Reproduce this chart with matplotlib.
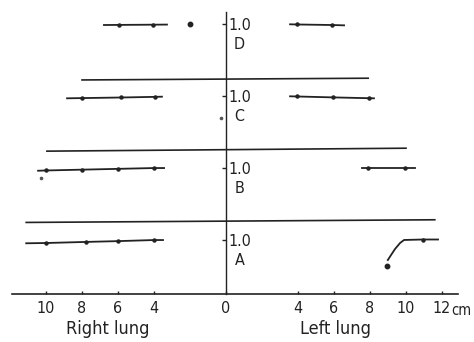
import numpy as np
import matplotlib
matplotlib.use('Agg')
import matplotlib.pyplot as plt

# x in cm (right lung drawn on the negative side), y: panel base k + 0.75 * ratio
SCALE = 0.75
panels = ['A', 'B', 'C', 'D']

x_ticks = [-10, -8, -6, -4, 0, 4, 6, 8, 10, 12]
x_ticklabels = ['10', '8', '6', '4', '0', '4', '6', '8', '10', '12']

# separator lines between panels (end points, slight scan tilt)
sep_x = [(-11.1, 11.6), (-9.95, 10.0), (-8.0, 7.9)]
sep_y = [(0.987, 1.024), (1.977, 2.018), (2.966, 2.99)]

# right lung traces (first and last point are line ends, inner points are marked)
A_right_x = [-11.1, -10.0, -7.8, -6.0, -4.0, -3.5]
A_right_v = [0.93, 0.935, 0.955, 0.97, 0.99, 0.99]
B_right_x = [-10.44, -10.0, -8.0, -6.0, -4.0, -3.44]
B_right_v = [0.94, 0.945, 0.96, 0.975, 0.99, 0.99]
C_right_x = [-8.83, -8.0, -5.83, -3.94, -3.56]
C_right_v = [0.948, 0.952, 0.963, 0.975, 0.978]
D_right_x = [-6.78, -5.94, -4.06, -3.28]
D_right_v = [0.972, 0.974, 0.978, 0.98]

# left lung traces
A_left_x = [8.99, 9.17, 9.39, 9.67, 9.89, 10.94, 11.78]
A_left_v = [0.62, 0.713, 0.824, 0.935, 0.991, 1.0, 1.0]
B_left_x = [7.56, 7.89, 9.94, 10.5]
B_left_v = [0.996, 0.996, 0.996, 0.996]
C_left_x = [3.56, 3.94, 5.94, 7.94, 8.22]
C_left_v = [0.985, 0.982, 0.965, 0.95, 0.948]
D_left_x = [3.56, 3.94, 5.89, 6.56]
D_left_v = [0.985, 0.982, 0.972, 0.966]

# isolated points: (panel index, x, ratio)
dots = [(0, 8.93, 0.504), (3, -2.0, 0.99)]
specks = [(2, -0.29, 0.583), (1, -10.3, 0.806)]

ink = '#222222'

fig = plt.figure(figsize=(4.74, 3.42), dpi=100)
ax = fig.add_axes([0, 0, 1, 1])
ax.set_xlim(-226 / 18, (474 - 226) / 18)
ax.set_ylim(-48.5 / 72, 293.5 / 72)

plt.rcParams['font.family'] = ['DejaVu Sans']
fnt = dict(family='DejaVu Sans', stretch='condensed', size=11.5, color=ink)
big = dict(fnt, size=13)

# axes lines
for s in ['top', 'left']:
    ax.spines[s].set_visible(False)
ax.spines['bottom'].set_position(('data', 0))
ax.spines['bottom'].set_bounds(-11.89, 12.89)
ax.spines['right'].set_position(('data', 0))
ax.spines['right'].set_bounds(0, 3.91)
ax.spines['bottom'].set_color(ink)
ax.spines['bottom'].set_linewidth(1.2)
ax.spines['right'].set_color(ink)
ax.spines['right'].set_linewidth(1.0)

ax.set_xticks(x_ticks)
ax.set_xticklabels(x_ticklabels, fontdict=fnt)
ax.tick_params(axis='x', direction='in', length=2.5, width=1, color=ink, pad=5.5)

levels = [k + SCALE for k in range(len(panels))]
ax.yaxis.tick_right()
ax.set_yticks(levels)
ax.set_yticklabels(['1.0'] * len(levels), fontdict=fnt)
ax.tick_params(axis='y', direction='in', length=3, width=1, color=ink, pad=2)

for (x0, x1), (y0, y1) in zip(sep_x, sep_y):
    ax.plot([x0, x1], [y0, y1], color=ink, lw=1.2)

traces = [
    (0, A_right_x, A_right_v), (1, B_right_x, B_right_v),
    (2, C_right_x, C_right_v), (3, D_right_x, D_right_v),
    (0, A_left_x, A_left_v), (1, B_left_x, B_left_v),
    (2, C_left_x, C_left_v), (3, D_left_x, D_left_v),
]
for k, xs, vs in traces:
    ys = k + SCALE * np.array(vs)
    ax.plot(xs, ys, color=ink, lw=1.3)
    if k == 0 and xs[0] > 0:
        ax.plot(xs[-2:-1], ys[-2:-1], 'o', color=ink, ms=2.2)
    else:
        ax.plot(xs[1:-1], ys[1:-1], 'o', color=ink, ms=2.2)

for k, x, v in dots:
    ax.plot([x], [k + SCALE * v], 'o', color=ink, ms=3.2)
for k, x, v in specks:
    ax.plot([x], [k + SCALE * v], 'o', color='#555555', ms=1.6)

for k, name in enumerate(panels):
    ax.text(0.75, k + 0.46, name, ha='center', va='center', fontdict=fnt)

ax.text(12.5, -0.3, 'cm', ha='left', va='baseline', fontdict=dict(fnt, size=10.5))
ax.text(-8.9, -0.5625, 'Right lung', ha='left', va='baseline', fontdict=big)
ax.text(4.1, -0.5625, 'Left lung', ha='left', va='baseline', fontdict=big)

fig.savefig('out.png', dpi=100, facecolor='white')
